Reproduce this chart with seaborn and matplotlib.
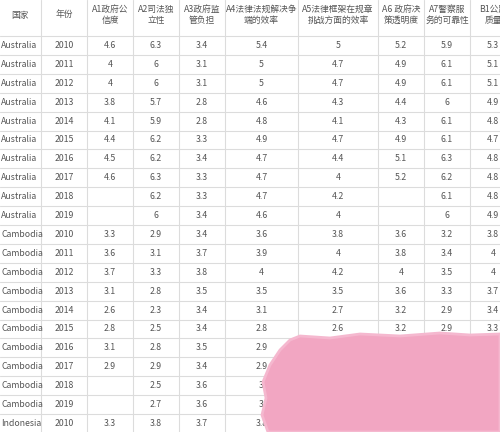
import matplotlib
matplotlib.use("Agg")
import matplotlib.pyplot as plt
from matplotlib.patches import Polygon
import seaborn as sns

sns.set_style("white")
plt.rcParams['font.family'] = ['Noto Sans CJK SC', 'DejaVu Sans']

headers = ["国家", "年份", "A1政府公\n信度", "A2司法独\n立性", "A3政府监\n管负担", "A4法律法规解决争\n端的效率",
           "A5法律框架在规章\n挑战方面的效率", "A6 政府决\n策透明度", "A7警察服\n务的可靠性", "B1公路\n质量"]
countries = ["Australia"] * 10 + ["Cambodia"] * 10 + ["Indonesia"]
years = list(range(2010, 2020)) * 2 + [2010]
A1 = ["4.6", "4", "4", "3.8", "4.1", "4.4", "4.5", "4.6", "", "",
      "3.3", "3.6", "3.7", "3.1", "2.6", "2.8", "3.1", "2.9", "", "", "3.3"]
A2 = ["6.3", "6", "6", "5.7", "5.9", "6.2", "6.2", "6.3", "6.2", "6",
      "2.9", "3.1", "3.3", "2.8", "2.3", "2.5", "2.8", "2.9", "2.5", "2.7", "3.8"]
A3 = ["3.4", "3.1", "3.1", "2.8", "2.8", "3.3", "3.4", "3.3", "3.3", "3.4",
      "3.4", "3.7", "3.8", "3.5", "3.4", "3.4", "3.5", "3.4", "3.6", "3.6", "3.7"]
A4 = ["5.4", "5", "5", "4.6", "4.8", "4.9", "4.7", "4.7", "4.7", "4.6",
      "3.6", "3.9", "4", "3.5", "3.1", "2.8", "2.9", "2.9", "3", "3", "3.8"]
A5 = ["5", "4.7", "4.7", "4.3", "4.1", "4.7", "4.4", "4", "4.2", "4",
      "3.8", "4", "4.2", "3.5", "2.7", "2.6", "2.7", "2.8", "3", "3", "3"]
A6 = ["5.2", "4.9", "4.9", "4.4", "4.3", "4.9", "5.1", "5.2", "", "",
      "3.6", "3.8", "4", "3.6", "3.2", "3.2", "3.3", "3.3", "", "", "3.5"]
A7 = ["5.9", "6.1", "6.1", "6", "6.1", "6.1", "6.3", "6.2", "6.1", "6",
      "3.2", "3.4", "3.5", "3.3", "2.9", "2.9", "3", "3", "3", "3", "3.3"]
B1 = ["5.3", "5.1", "5.1", "4.9", "4.8", "4.7", "4.8", "4.8", "4.8", "4.9",
      "3.8", "4", "4", "3.7", "3.4", "3.3", "3.3", "3.2", "3.3", "3.3", "3.4"]

cols = [countries, [str(y) for y in years], A1, A2, A3, A4, A5, A6, A7, B1]
edges = [0, 41, 87, 133, 179, 225, 298, 378, 424, 470, 516]
head_h, row_h = 36, 18.9

fig = plt.figure(figsize=(5, 4.32), dpi=100)
ax = fig.add_axes([0, 0, 1, 1])
ax.set_xlim(0, 500)
ax.set_ylim(432, 0)
ax.axis("off")

grid = "#dcdcdc"
txt = "#555555"
for x in edges[1:-1]:
    ax.plot([x, x], [0, 432], color=grid, lw=0.8)
nrows = len(countries)
for i in range(nrows + 1):
    y = head_h + i * row_h
    ax.plot([0, 500], [y, y], color=grid, lw=0.8)

for c, h in enumerate(headers):
    cx = (edges[c] + edges[c + 1]) / 2
    ax.text(cx, 15, h, ha="center", va="center", fontsize=6.3, color=txt,
            linespacing=1.25, clip_on=True)
for c, col in enumerate(cols):
    cx = (edges[c] + edges[c + 1]) / 2
    for r, v in enumerate(col):
        y = head_h + (r + 0.5) * row_h
        if c == 0:
            ax.text(1, y, v, ha="left", va="center", fontsize=6.3, color=txt)
        else:
            ax.text(cx, y, v, ha="center", va="center", fontsize=6.3, color=txt, clip_on=True)

# pink scribble covering the lower right corner
blob = [(300, 336), (330, 338), (360, 334), (400, 336), (440, 333), (470, 335), (500, 334),
        (500, 432), (268, 432), (262, 415), (266, 398), (263, 382), (270, 365), (280, 350), (290, 340)]
ax.add_patch(Polygon(blob, closed=True, facecolor="#f2a6c2", edgecolor="#f5b8cf", lw=2, zorder=5))

fig.savefig("out.png", dpi=100)
